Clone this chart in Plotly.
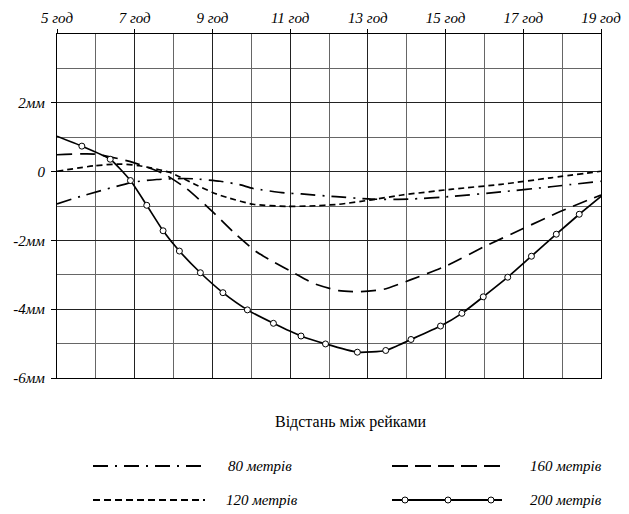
import plotly.graph_objects as go

# ---- data ----
hours_ticks = [5, 7, 9, 11, 13, 15, 17, 19]
hour_labels = ["5 год", "7 год", "9 год", "11 год", "13 год", "15 год", "17 год", "19 год"]
y_ticks = [-6, -4, -2, 0, 2]
y_labels = ["-6мм", "-4мм", "-2мм", "0", "2мм"]

x80 = [5.0, 5.61, 6.95, 7.57, 8.27, 8.52, 9.2, 9.7, 10.05, 10.86, 11.29, 12.18, 13.1, 14.04, 15.18, 16.43, 17.71, 19.0]
y80 = [-0.94, -0.72, -0.31, -0.23, -0.2, -0.21, -0.28, -0.38, -0.49, -0.62, -0.65, -0.73, -0.80, -0.80, -0.72, -0.59, -0.44, -0.28]

x120 = [5.0, 5.97, 6.6, 7.12, 7.89, 8.57, 9.03, 9.37, 10.05, 10.93, 11.5, 12.25, 13.1, 13.88, 15.18, 16.43, 17.71, 19.0]
y120 = [0.01, 0.17, 0.22, 0.17, -0.02, -0.38, -0.62, -0.75, -0.95, -1.01, -1.0, -0.95, -0.82, -0.68, -0.51, -0.37, -0.18, 0.01]

x160 = [5.0, 5.97, 6.95, 7.74, 8.34, 8.96, 9.6, 10.13, 10.6, 11.12, 11.6, 12.25, 12.76, 13.41, 14.11, 15.0, 16.0, 16.97, 17.95, 19.0]
y160 = [0.49, 0.51, 0.27, -0.06, -0.5, -1.12, -1.82, -2.33, -2.64, -2.96, -3.25, -3.46, -3.49, -3.42, -3.14, -2.75, -2.18, -1.67, -1.16, -0.68]

x200 = [5.0, 5.64, 6.37, 6.89, 7.31, 7.73, 8.15, 8.69, 9.27, 9.9, 10.57, 11.28, 11.91, 12.73, 13.46, 14.11, 14.87, 15.42, 15.97, 16.60, 17.21, 17.85, 18.44, 19.0]
y200 = [1.03, 0.74, 0.36, -0.26, -0.98, -1.72, -2.31, -2.94, -3.52, -4.02, -4.41, -4.78, -5.01, -5.25, -5.20, -4.88, -4.49, -4.12, -3.64, -3.07, -2.46, -1.82, -1.24, -0.72]

series_names = ["80 метрів", "120 метрів", "160 метрів", "200 метрів"]
axis_title = "Відстань між рейками"

SERIF = "Liberation Serif"

fig = go.Figure()

fig.add_trace(go.Scatter(x=x80, y=y80, mode="lines", name=series_names[0],
                         line=dict(color="black", width=1.7, dash="15px,7px,2px,7px", shape="spline", smoothing=0.6)))
fig.add_trace(go.Scatter(x=x120, y=y120, mode="lines", name=series_names[1],
                         line=dict(color="black", width=1.7, dash="6px,4px", shape="spline", smoothing=0.6)))
fig.add_trace(go.Scatter(x=x160, y=y160, mode="lines", name=series_names[2],
                         line=dict(color="black", width=1.7, dash="15px,8px", shape="spline", smoothing=0.6)))
op = [1.0] * len(x200)
op[0] = 0.0
op[-1] = 0.0
fig.add_trace(go.Scatter(x=x200, y=y200, mode="lines+markers", name=series_names[3],
                         line=dict(color="black", width=1.7, shape="spline", smoothing=0.5),
                         marker=dict(symbol="circle", size=6, color="white", opacity=op,
                                     line=dict(color="black", width=1))))

# ---- custom legend (2 x 2) ----
L, R, T, B = 57, 601, 34, 378
W, H = R - L, B - T
def px(xp):
    return (xp - L) / W
def py(yp):
    return (B - yp) / H

legend_rows = [466, 500]
samples = [
    (93, 205, legend_rows[0], "15px,7px,2px,7px", series_names[0], 226),
    (93, 205, legend_rows[1], "7px,4px", series_names[1], 224),
    (392, 502, legend_rows[0], "16px,7px", series_names[2], 528),
    (392, 502, legend_rows[1], "solid", series_names[3], 528),
]
shapes = []
annotations = []
for x0, x1, yy, dash, name, tx in samples:
    shapes.append(dict(type="line", xref="paper", yref="paper",
                       x0=px(x0), x1=px(x1), y0=py(yy), y1=py(yy),
                       line=dict(color="black", width=2, dash=dash)))
    annotations.append(dict(text=name, xref="paper", yref="paper", x=px(tx), y=py(yy),
                            xanchor="left", yanchor="middle", showarrow=False,
                            font=dict(family=SERIF, size=15, color="black", style="italic")))
for cx in [405, 448, 491]:
    shapes.append(dict(type="circle", xref="paper", yref="paper",
                       xsizemode="pixel", ysizemode="pixel",
                       xanchor=px(cx), yanchor=py(legend_rows[1]),
                       x0=-3, x1=3, y0=-3, y1=3,
                       fillcolor="white", line=dict(color="black", width=1)))

annotations.append(dict(text=axis_title, xref="paper", yref="paper", x=px(351), y=py(422),
                        xanchor="center", yanchor="middle", showarrow=False,
                        font=dict(family=SERIF, size=16, color="black")))

fig.update_layout(
    width=629, height=514,
    margin=dict(l=L, r=629 - R, t=T, b=514 - B, autoexpand=False),
    paper_bgcolor="white", plot_bgcolor="white",
    showlegend=False,
    shapes=shapes, annotations=annotations,
    font=dict(family=SERIF, color="black"),
)
fig.update_xaxes(range=[5, 19], side="top", tickvals=hours_ticks, ticktext=hour_labels,
                 automargin=False,
                 ticks="outside", ticklen=4, tickcolor="black", tickwidth=1,
                 tickfont=dict(family=SERIF, size=15, color="black", style="italic"),
                 showgrid=True, gridcolor="#222", gridwidth=1,
                 minor=dict(dtick=1, showgrid=True, gridcolor="#666", gridwidth=1, ticks=""),
                 showline=True, linecolor="black", linewidth=1.2, mirror=True, zeroline=False)
fig.update_yaxes(range=[-6, 4], tickvals=y_ticks, ticktext=y_labels,
                 automargin=False,
                 ticks="outside", ticklen=5, tickcolor="black", tickwidth=1,
                 tickfont=dict(family=SERIF, size=15, color="black", style="italic"),
                 ticklabelstandoff=3,
                 showgrid=True, gridcolor="#222", gridwidth=1,
                 minor=dict(dtick=1, showgrid=True, gridcolor="#666", gridwidth=1, ticks=""),
                 showline=True, linecolor="black", linewidth=1.2, mirror=True, zeroline=False)

fig.write_html("out.html", config={"displayModeBar": False},
               post_script="document.body.style.margin='0';document.body.style.overflow='hidden';")
